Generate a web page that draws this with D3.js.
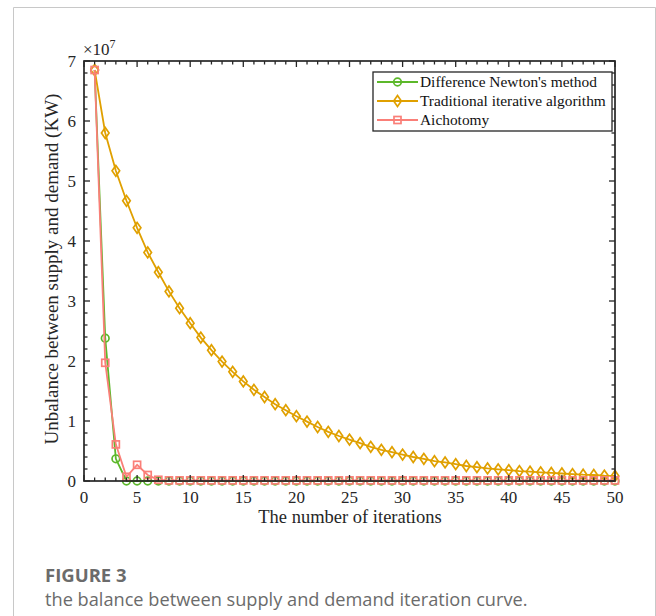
<!DOCTYPE html>
<html>
<head>
<meta charset="utf-8">
<script src="https://cdn.jsdelivr.net/npm/d3@7"></script>
<style>
  body { margin: 0; background: #fff; }
  svg { display: block; }
</style>
</head>
<body>
<div id="chart"></div>
<script>
const width = 656;
const height = 616;

// iteration index 1..50, values in units of 1e7 KW
const iterations = d3.range(1, 51);
const newton = [6.85, 2.38, 0.37, 0.0, 0.0, 0.0, 0.0, 0.0, 0.0, 0.0,
  0, 0, 0, 0, 0, 0, 0, 0, 0, 0, 0, 0, 0, 0, 0, 0, 0, 0, 0, 0,
  0, 0, 0, 0, 0, 0, 0, 0, 0, 0, 0, 0, 0, 0, 0, 0, 0, 0, 0, 0];
const traditional = [6.85, 5.80, 5.17, 4.67, 4.22, 3.81, 3.48, 3.16, 2.88, 2.63,
  2.39, 2.18, 1.99, 1.82, 1.66, 1.52, 1.40, 1.28, 1.18, 1.08,
  0.99, 0.90, 0.82, 0.75, 0.69, 0.63, 0.57, 0.52, 0.48, 0.44,
  0.40, 0.37, 0.33, 0.31, 0.28, 0.25, 0.23, 0.21, 0.195, 0.18,
  0.165, 0.155, 0.145, 0.135, 0.125, 0.115, 0.105, 0.10, 0.09, 0.085];
const aichotomy = [6.85, 1.97, 0.61, 0.07, 0.27, 0.10, 0.02, 0.01, 0.01, 0.01,
  0.01, 0.01, 0.01, 0.01, 0.01, 0.01, 0.01, 0.01, 0.01, 0.01,
  0.01, 0.01, 0.01, 0.01, 0.01, 0.01, 0.01, 0.01, 0.01, 0.01,
  0.01, 0.01, 0.01, 0.01, 0.01, 0.01, 0.01, 0.01, 0.01, 0.01,
  0.01, 0.01, 0.01, 0.01, 0.01, 0.01, 0.01, 0.01, 0.01, 0.01];

const seriesNames = ["Difference Newton's method", "Traditional iterative algorithm", "Aichotomy"];
const seriesColors = ["#5cb82a", "#e0a000", "#fa7f78"];
const seriesMarkers = ["circle", "diamond", "square"];
const xTicks = d3.range(0, 51, 5);
const yTicks = d3.range(0, 8, 1);

const svg = d3.select("#chart").append("svg").attr("width", width).attr("height", height);

// card border
svg.append("path")
  .attr("d", `M13.5,${height} V7.5 H655.5 V${height}`)
  .attr("fill", "none")
  .attr("stroke", "#c8c8c8")
  .attr("stroke-width", 1);

const x = d3.scaleLinear().domain([0, 50]).range([84, 615]);
const y = d3.scaleLinear().domain([0, 7]).range([481, 61]);

const serif = "'Liberation Serif', 'Times New Roman', serif";
const axisColor = "#262626";

const plot = svg.append("g");

// series (green first, red on top)
const line = d3.line().x((d, i) => x(iterations[i])).y((d) => y(d));

function marker(g, type, color) {
  if (type === "circle") {
    g.append("circle").attr("r", 3.8);
  } else if (type === "diamond") {
    g.append("path").attr("d", "M0,-5.4 L3.8,0 L0,5.4 L-3.8,0 Z");
  } else {
    g.append("rect").attr("x", -3.5).attr("y", -3.5).attr("width", 7).attr("height", 7);
  }
  g.selectAll("*").attr("fill", "none").attr("stroke", color).attr("stroke-width", 1.7);
}

[newton, traditional, aichotomy].forEach((data, s) => {
  const g = plot.append("g");
  g.append("path")
    .datum(data)
    .attr("d", line)
    .attr("fill", "none")
    .attr("stroke", seriesColors[s])
    .attr("stroke-width", 1.8);
  g.selectAll("g.m")
    .data(data)
    .enter()
    .append("g")
    .attr("class", "m")
    .attr("transform", (d, i) => `translate(${x(iterations[i])},${y(d)})`)
    .each(function () { marker(d3.select(this), seriesMarkers[s], seriesColors[s]); });
});

// axes with inward ticks on all sides
const axes = svg.append("g").attr("stroke", axisColor).attr("stroke-width", 1.3);
const xMinor = d3.range(0, 51, 1);
const yMinor = d3.range(0, 7.01, 0.2);

xMinor.forEach((v) => {
  const len = v % 5 === 0 ? 6 : 3.5;
  axes.append("line").attr("x1", x(v)).attr("x2", x(v)).attr("y1", y(0)).attr("y2", y(0) - len);
  axes.append("line").attr("x1", x(v)).attr("x2", x(v)).attr("y1", y(7)).attr("y2", y(7) + len);
});
yMinor.forEach((v, i) => {
  const len = i % 5 === 0 ? 6 : 3.5;
  axes.append("line").attr("y1", y(v)).attr("y2", y(v)).attr("x1", x(0)).attr("x2", x(0) + len);
  axes.append("line").attr("y1", y(v)).attr("y2", y(v)).attr("x1", x(50)).attr("x2", x(50) - len);
});

svg.append("rect")
  .attr("x", x(0)).attr("y", y(7))
  .attr("width", x(50) - x(0)).attr("height", y(0) - y(7))
  .attr("fill", "none")
  .attr("stroke", axisColor)
  .attr("stroke-width", 1.7);

// tick labels
svg.append("g")
  .selectAll("text")
  .data(xTicks)
  .enter()
  .append("text")
  .attr("x", (d) => x(d))
  .attr("y", 503)
  .attr("text-anchor", "middle")
  .attr("font-family", serif)
  .attr("font-size", 17)
  .attr("fill", axisColor)
  .text((d) => d);

svg.append("g")
  .selectAll("text")
  .data(yTicks)
  .enter()
  .append("text")
  .attr("x", 76)
  .attr("y", (d) => y(d) + 6)
  .attr("text-anchor", "end")
  .attr("font-family", serif)
  .attr("font-size", 17)
  .attr("fill", axisColor)
  .text((d) => d);

// exponent
const expo = svg.append("text")
  .attr("x", 83)
  .attr("y", 55)
  .attr("font-family", serif)
  .attr("font-size", 17)
  .attr("fill", axisColor);
expo.append("tspan").text("\u00d710");
expo.append("tspan").attr("dy", -7).attr("font-size", 12).text("7");

// axis labels
svg.append("text")
  .attr("x", 350)
  .attr("y", 523)
  .attr("text-anchor", "middle")
  .attr("font-family", serif)
  .attr("font-size", 18.5)
  .attr("fill", axisColor)
  .text("The number of iterations");

svg.append("text")
  .attr("transform", `translate(58,${269}) rotate(-90)`)
  .attr("text-anchor", "middle")
  .attr("font-family", serif)
  .attr("font-size", 19)
  .attr("fill", axisColor)
  .text("Unbalance between supply and demand (KW)");

// legend
const legend = svg.append("g");
legend.append("rect")
  .attr("x", 373).attr("y", 72)
  .attr("width", 239).attr("height", 59)
  .attr("fill", "#fff")
  .attr("stroke", axisColor)
  .attr("stroke-width", 1.3);

seriesNames.forEach((name, s) => {
  const ly = 82 + s * 19;
  legend.append("line")
    .attr("x1", 377).attr("x2", 418)
    .attr("y1", ly).attr("y2", ly)
    .attr("stroke", seriesColors[s])
    .attr("stroke-width", 1.8);
  marker(legend.append("g").attr("transform", `translate(397.5,${ly})`), seriesMarkers[s], seriesColors[s]);
  legend.append("text")
    .attr("x", 420)
    .attr("y", ly + 5)
    .attr("font-family", serif)
    .attr("font-size", 15.4)
    .attr("fill", "#111")
    .text(name);
});

// caption
svg.append("text")
  .attr("x", 45)
  .attr("y", 582)
  .attr("font-family", "'Open Sans', 'Noto Sans', sans-serif")
  .attr("font-weight", "bold")
  .attr("font-size", 18.5)
  .attr("fill", "#6b6b6b")
  .text("FIGURE 3");

svg.append("text")
  .attr("x", 45)
  .attr("y", 606)
  .attr("font-family", "'Open Sans', 'Noto Sans', sans-serif")
  .attr("font-size", 18.2)
  .attr("fill", "#6b6b6b")
  .text("the balance between supply and demand iteration curve.");
</script>
</body>
</html>
